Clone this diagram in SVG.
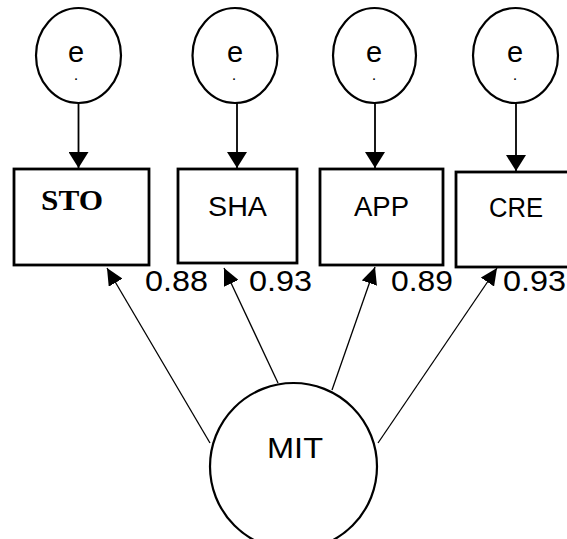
<svg xmlns="http://www.w3.org/2000/svg" width="567" height="539" viewBox="0 0 567 539">
<style>
.err{fill:#fff;stroke:#000;stroke-width:2.2}
.box{fill:#fff;stroke:#000;stroke-width:2.8}
.e{font-family:"Liberation Sans",Arial,sans-serif;font-size:29px;fill:#000;text-anchor:middle}
.dot{font-family:"Liberation Sans",Arial,sans-serif;font-size:11px;font-weight:bold;fill:#000;text-anchor:middle}
.lbl{font-family:"Liberation Sans",Arial,sans-serif;font-size:27px;fill:#000}
.sto{font-family:"Liberation Serif","Times New Roman",serif;font-size:30px;font-weight:bold;fill:#000}
.num{font-family:"Liberation Sans",Arial,sans-serif;font-size:30px;fill:#000}
.v{stroke:#000;stroke-width:1.8;fill:none}
.d{stroke:#000;stroke-width:1.3;fill:none}
</style>
<defs>
<marker id="av" markerUnits="userSpaceOnUse" markerWidth="17" markerHeight="20" refX="16" refY="10" orient="auto" viewBox="0 0 17 20">
<path d="M0,0 L16,10 L0,20 z" fill="#000"/>
</marker>
<marker id="ad" markerUnits="userSpaceOnUse" markerWidth="18" markerHeight="16" refX="17" refY="8" orient="auto" viewBox="0 0 18 16">
<path d="M0,0 L17,8 L0,16 z" fill="#000"/>
</marker>
</defs>

<g id="connectors">
<line class="v" x1="78.5" y1="103" x2="78.5" y2="168" marker-end="url(#av)"/>
<line class="v" x1="237" y1="103" x2="237" y2="168" marker-end="url(#av)"/>
<line class="v" x1="375" y1="103" x2="375" y2="168" marker-end="url(#av)"/>
<line class="v" x1="516" y1="103" x2="516" y2="171" marker-end="url(#av)"/>
<line class="d" x1="210" y1="443" x2="107" y2="268" marker-end="url(#ad)"/>
<line class="d" x1="278" y1="383" x2="224" y2="268" marker-end="url(#ad)"/>
<line class="d" x1="332" y1="390" x2="375" y2="267" marker-end="url(#ad)"/>
<line class="d" x1="378" y1="443" x2="497" y2="268" marker-end="url(#ad)"/>
</g>

<g id="e1"><ellipse class="err" cx="78.5" cy="55.5" rx="42.5" ry="47.5"/><text class="e" x="76" y="62">e</text><text class="dot" x="76" y="80">.</text></g>
<g id="e2"><ellipse class="err" cx="235" cy="55.5" rx="42.5" ry="47.5"/><text class="e" x="235" y="62">e</text><text class="dot" x="234" y="80">.</text></g>
<g id="e3"><ellipse class="err" cx="374.5" cy="55.5" rx="41.5" ry="47.5"/><text class="e" x="374" y="62">e</text><text class="dot" x="374" y="80">.</text></g>
<g id="e4"><ellipse class="err" cx="515.5" cy="55.5" rx="42.5" ry="47.5"/><text class="e" x="515" y="62">e</text><text class="dot" x="515" y="80">.</text></g>

<g id="STO"><rect class="box" x="14" y="169" width="135" height="96"/><text class="sto" x="41" y="210" textLength="62" lengthAdjust="spacingAndGlyphs">STO</text></g>
<g id="SHA"><rect class="box" x="178" y="169" width="119" height="94"/><text class="lbl" x="208" y="216" textLength="59" lengthAdjust="spacingAndGlyphs">SHA</text></g>
<g id="APP"><rect class="box" x="320" y="169" width="123" height="96"/><text class="lbl" x="354" y="216" textLength="55" lengthAdjust="spacingAndGlyphs">APP</text></g>
<g id="CRE"><rect class="box" x="456" y="172" width="120" height="95"/><text class="lbl" x="489" y="217" textLength="54" lengthAdjust="spacingAndGlyphs">CRE</text></g>

<g id="MIT"><circle class="err" cx="293.5" cy="466.5" r="83.5"/><text class="lbl" x="267" y="458" style="font-size:30px" textLength="56" lengthAdjust="spacingAndGlyphs">MIT</text></g>

<g id="weights">
<text class="num" x="145" y="291" textLength="63" lengthAdjust="spacingAndGlyphs">0.88</text>
<text class="num" x="249" y="291" textLength="63" lengthAdjust="spacingAndGlyphs">0.93</text>
<text class="num" x="391" y="291" textLength="62" lengthAdjust="spacingAndGlyphs">0.89</text>
<text class="num" x="503" y="291" textLength="63" lengthAdjust="spacingAndGlyphs">0.93</text>
</g>
</svg>
